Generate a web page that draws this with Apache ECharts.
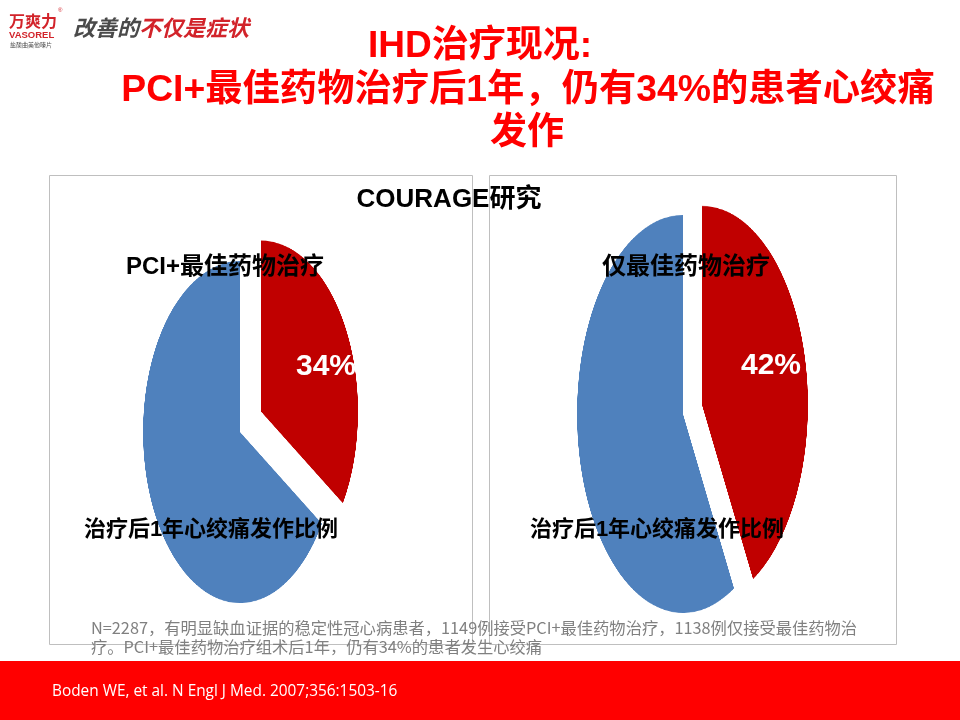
<!DOCTYPE html>
<html>
<head>
<meta charset="utf-8">
<script src="https://cdn.jsdelivr.net/npm/echarts@6/dist/echarts.min.js"></script>
<style>
  html, body { margin: 0; padding: 0; background: #ffffff; }
  #stage { position: relative; width: 960px; height: 720px; overflow: hidden; background: #fff; }
  #main { position: absolute; left: 0; top: 0; width: 960px; height: 720px; z-index: 2; pointer-events: none; }
  .pie { position: absolute; width: 300px; height: 300px; z-index: 1; transform-origin: 50% 50%; }
  #pieL { left: 90px; top: 282px; transform: scaleY(1.763); }
  #pieR { left: 533px; top: 264px; transform: scaleY(1.877); }
</style>
</head>
<body>
<div id="stage">
  <div id="pieL" class="pie"></div>
  <div id="pieR" class="pie"></div>
  <div id="main"></div>
</div>
<script>
// ---- data ----
const sliceNames = ['治疗后1年心绞痛发作', '治疗后1年无心绞痛发作'];
const pciValues = [34, 66];
const omtValues = [42, 58];
const groupTitles = ['PCI+最佳药物治疗', '仅最佳药物治疗'];
const sliceLabel = '治疗后1年心绞痛发作比例';
const studyName = 'COURAGE研究';
const titleLines = ['IHD治疗现况:', 'PCI+最佳药物治疗后1年，仍有34%的患者心绞痛', '发作'];
const noteLines = [
  'N=2287，有明显缺血证据的稳定性冠心病患者，1149例接受PCI+最佳药物治疗，1138例仅接受最佳药物治',
  '疗。PCI+最佳药物治疗组术后1年，仍有34%的患者发生心绞痛'
];
const citation = 'Boden WE, et al. N Engl J Med. 2007;356:1503-16';
const sliceColors = ['#C00000', '#4F81BD'];

function pieOption(values, radius, offset) {
  return {
    animation: false,
    backgroundColor: 'transparent',
    series: [{
      type: 'pie',
      radius: radius,
      center: ['50%', '50%'],
      startAngle: 90,
      clockwise: true,
      selectedMode: 'single',
      selectedOffset: offset,
      label: { show: false },
      labelLine: { show: false },
      emphasis: { disabled: true },
      itemStyle: { borderWidth: 0 },
      data: values.map((v, i) => ({
        value: v,
        name: sliceNames[i],
        selected: i === 0,
        itemStyle: { color: sliceColors[i] }
      }))
    }]
  };
}

const pieL = echarts.init(document.getElementById('pieL'), null, { devicePixelRatio: 3 });
pieL.setOption(pieOption(pciValues, 97, 24));
const pieR = echarts.init(document.getElementById('pieR'), null, { devicePixelRatio: 3 });
pieR.setOption(pieOption(omtValues, 106, 19.6));

const F = "'Liberation Sans', 'Noto Sans CJK SC', sans-serif";
const CJK = "'Noto Sans CJK SC', sans-serif";

function txt(x, y, text, font, fill, align, z) {
  return {
    type: 'text', x: x, y: y, z: z || 10,
    style: { text: text, font: font, fill: fill, textAlign: align || 'center', textVerticalAlign: 'middle' }
  };
}

const main = echarts.init(document.getElementById('main'));
main.setOption({
  animation: false,
  backgroundColor: 'transparent',
  graphic: [
    // boxes
    { type: 'rect', shape: { x: 49.5, y: 175.5, width: 423, height: 469 }, style: { fill: 'none', stroke: '#BFBFBF', lineWidth: 1 }, z: 1 },
    { type: 'rect', shape: { x: 489.5, y: 175.5, width: 407, height: 469 }, style: { fill: 'none', stroke: '#BFBFBF', lineWidth: 1 }, z: 1 },
    // bottom red band
    { type: 'rect', shape: { x: 0, y: 661, width: 960, height: 59 }, style: { fill: '#FF0000' }, z: 1 },
    txt(52, 692, citation, "15.4px 'Open Sans', sans-serif", '#ffffff', 'left'),
    // logo
    txt(9, 21, '万爽力', "bold 16px " + CJK, '#D2232A', 'left'),
    txt(58, 10, '®', "6px " + F, '#D2232A', 'left'),
    txt(9, 35, 'VASOREL', "bold 9.5px " + F, '#D2232A', 'left'),
    txt(10, 45, '盐酸曲美他嗪片', "6px " + CJK, '#555555', 'left'),
    {
      type: 'text', x: 73, y: 28, z: 10,
      style: {
        text: '{a|改善的}{b|不仅是症状}',
        textVerticalAlign: 'middle', textAlign: 'left',
        rich: {
          a: { font: "italic bold 22px " + CJK, fill: '#4A4A4A' },
          b: { font: "italic bold 22px " + CJK, fill: '#D2232A' }
        }
      }
    },
    // title
    txt(368, 47, titleLines[0], "bold 37px " + F, '#FF0000', 'left'),
    txt(528, 91, titleLines[1], "bold 37.3px " + F, '#FF0000'),
    txt(527, 134, titleLines[2], "bold 37px " + F, '#FF0000'),
    // study name
    txt(449, 200, studyName, "bold 26px " + F, '#000000'),
    // left pie labels
    txt(225, 267, groupTitles[0], "bold 24px " + F, '#000000'),
    txt(326, 367, pciValues[0] + '%', "bold 30px " + F, '#ffffff'),
    txt(211, 530, sliceLabel, "bold 22px " + F, '#000000'),
    // right pie labels
    txt(686, 267, groupTitles[1], "bold 24px " + F, '#000000'),
    txt(771, 366, omtValues[0] + '%', "bold 30px " + F, '#ffffff'),
    txt(657, 530, sliceLabel, "bold 22px " + F, '#000000'),
    // note
    txt(91, 628, noteLines[0], "16.3px " + CJK, '#808080', 'left'),
    txt(91, 647, noteLines[1], "16.3px " + CJK, '#808080', 'left')
  ]
});
</script>
</body>
</html>
